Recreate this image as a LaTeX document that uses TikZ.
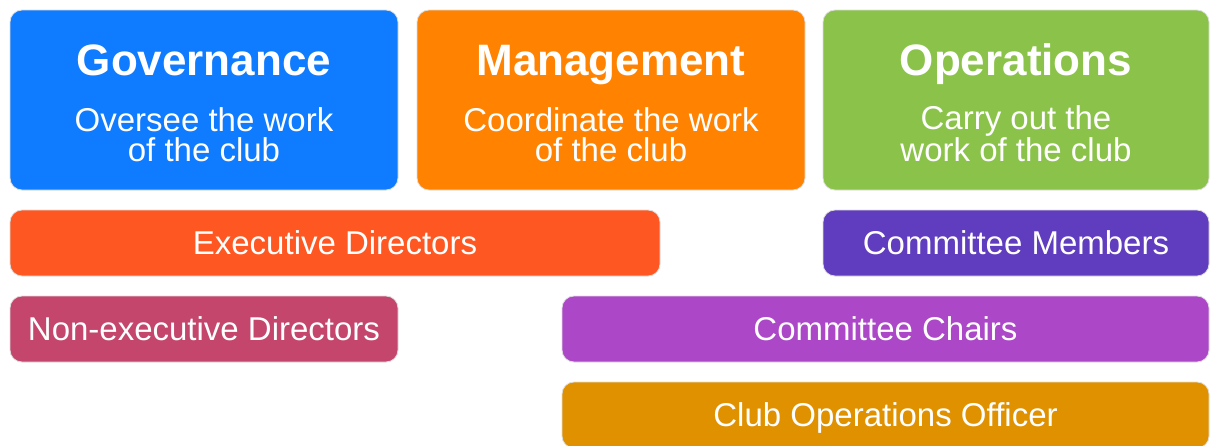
\documentclass[tikz,border=0pt]{standalone}
\usepackage{fontspec}
\setmainfont{Liberation Sans}
\usepackage{xcolor}
\usetikzlibrary{positioning}

\definecolor{govblue}{HTML}{0F7BFF}
\definecolor{mgmtorange}{HTML}{FF8200}
\definecolor{opsgreen}{HTML}{8BC34A}
\definecolor{execred}{HTML}{FF5722}
\definecolor{membpurple}{HTML}{603CBE}
\definecolor{nonexecrose}{HTML}{C4466C}
\definecolor{chairpurple}{HTML}{AC47C8}
\definecolor{clubgold}{HTML}{E09100}

\begin{document}
\begin{tikzpicture}[x=1pt, y=1pt,
		box/.style={rectangle, rounded corners=12pt, draw=black!13, line width=0.8pt, outer sep=0pt, text=white, font=\fontsize{33}{30}\selectfont},
		head/.style={box, minimum width=388pt, minimum height=180pt},
		bar/.style={box, minimum height=66pt, text height=23.6pt, text depth=0pt},
		headtitle/.style={text=white, inner sep=0pt, font=\fontsize{44}{44}\selectfont\bfseries, anchor=base},
		blurb/.style={text=white, inner sep=0pt, font=\fontsize{33}{30}\selectfont, align=center, anchor=base}]
		\useasboundingbox (0,0) rectangle (1210,-445);
		\clip (0,0) rectangle (1210,-445);

		% the three columns
		\node[head, fill=govblue, anchor=north west] (gov) at (10,-10) {};
		\node[head, fill=mgmtorange, right=19pt of gov] (mgmt) {};
		\node[head, fill=opsgreen, minimum width=386pt, right=18pt of mgmt] (ops) {};

		\node[headtitle] (govtitle) at ([yshift=-65pt]gov.north) {Governance};
		\node[headtitle] (mgmttitle) at ([yshift=-65pt]mgmt.north) {Management};
		\node[headtitle] (opstitle) at ([yshift=-65pt]ops.north) {Operations};

		\node[blurb] (govtext) at ([yshift=-151pt]gov.north) {Oversee the work\\of the club};
		\node[blurb] (mgmttext) at ([yshift=-151pt]mgmt.north) {Coordinate the work\\of the club};
		\node[blurb] (opstext) at ([yshift=-151pt]ops.north) {Carry out the\\work of the club};

		% the roles
		\node[bar, fill=execred, minimum width=650pt, below right=20pt and 0pt of gov.south west] (exec) {Executive Directors};
		\node[bar, fill=membpurple, minimum width=386pt, below left=20pt and 0pt of ops.south east] (memb) {Committee Members};
		\node[bar, fill=nonexecrose, minimum width=388pt, below right=20pt and 0pt of exec.south west] (nonexec) {Non-executive Directors};
		\node[bar, fill=chairpurple, minimum width=647pt, below left=20pt and 0pt of memb.south east] (chairs) {Committee Chairs};
		\node[bar, fill=clubgold, minimum width=647pt, below=20pt of chairs] (clubops) {Club Operations Officer};
	\end{tikzpicture}
\end{document}
